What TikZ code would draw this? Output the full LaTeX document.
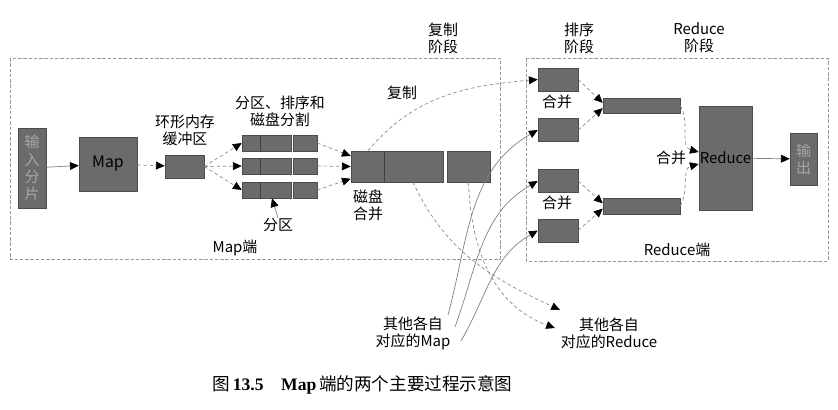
\documentclass[tikz,border=0pt]{standalone}
\usepackage{fontspec}
\newfontfamily\cjk{Noto Sans CJK SC}
\newfontfamily\capserif{Liberation Serif}
\usetikzlibrary{arrows.meta}

\tikzset{
  every node/.style={font=\cjk\fontsize{8.5}{9.8}\selectfont, align=center, inner sep=0pt},
  blk/.style={draw=black!70, fill=black!58, line width=0.3pt},
  sz/.style 2 args={minimum width=#1*0.02cm, minimum height=#2*0.02cm},
  side/.style={draw=black!40, line width=0.4pt, dash pattern=on 2pt off 1pt},
  tip/.style={-{Triangle[length=5pt,width=4.5pt,color=black]}},
  flow/.style={tip, draw=black!50, line width=0.4pt},
  dflow/.style={tip, draw=black!45, line width=0.4pt, dash pattern=on 2pt off 1.5pt},
}

\begin{document}
\begin{tikzpicture}[x=0.02cm, y=-0.02cm]
\useasboundingbox (0,0) rectangle (838,409);

% the two sides
\draw[side] (10,58) rectangle (500,259);
\draw[side] (526,58) rectangle (828,261);

% Map side
\node[blk, sz={28}{80}, text=black!35] (split) at (32,168) {输\\入\\分\\片};
\node[blk, sz={58}{54}, font=\cjk\fontsize{9}{10}\selectfont] (map) at (108,164) {Map};
\node[blk, sz={39}{23}] (buf) at (184.5,166.5) {};
\node (buflbl) at (185,130) {环形内存\\缓冲区};

\foreach \i/\y in {1/143,2/166,3/190}{
  \node[blk, sz={49}{16}] (p\i) at (266.5,\y) {};
  \node[blk, sz={24}{16}] (q\i) at (305,\y) {};
  \draw[black!75] (260,\y-8) -- (260,\y+8);
}
\node (spilllbl) at (280,111) {分区、排序和\\磁盘分割};
\node (partlbl) at (278,225) {分区};

\node[blk, sz={92}{31}] (mrg) at (397,166.5) {};
\draw[black!75] (384,151) -- (384,182);
\node[blk, sz={43}{31}] (mrg2) at (468.5,166.5) {};
\node (mrglbl) at (368,205) {磁盘\\合并};
\node (copylbl) at (402,93) {复制};
\node (maplbl) at (235,248) {Map端};

% phases
\node (ph1) at (443,38) {复制\\阶段};
\node (ph2) at (579,38) {排序\\阶段};
\node (ph3) at (699,38) {Reduce\\阶段};

% Reduce side
\foreach \i/\y in {1/79.5,2/130,3/181,4/230.5}
  \node[blk, sz={40}{23}] (r\i) at (558,\y) {};
\node (mg1) at (557,102) {合并};
\node (mg2) at (557,203) {合并};
\node[blk, sz={77}{15}] (bar1) at (641.5,105.5) {};
\node[blk, sz={77}{16}] (bar2) at (641.5,206) {};
\node[blk, sz={53}{104}] (red) at (725.5,158) {Reduce};
\node[blk, sz={27}{52}, text=black!35] (out) at (803.5,159) {输\\出};
\node (mg3) at (671,158) {合并};
\node (redlbl) at (677,250) {Reduce端};

% other maps / reduces
\node (othmap) at (413,333) {其他各自\\对应的Map};
\node (othred) at (609,333) {其他各自\\对应的Reduce};
\coordinate (ta) at (560,310);
\coordinate (tb) at (555,328);
\coordinate (ma) at (448,315);
\coordinate (mb) at (455,327);
\coordinate (mc) at (461,341);

\node[anchor=west, font=\cjk\fontsize{10}{12}\selectfont] (cap) at (212,385)
  {图\,{\capserif\bfseries 13.5}\quad{\capserif\bfseries Map}\,端的两个主要过程示意图};

% connectors
\draw[flow] (split) -- (map);
\draw[dflow] (map) -- (buf);
\foreach \i in {1,2,3}
  \draw[dflow] (buf.east) -- (p\i.west);
\foreach \i/\s in {1/6,2/0,3/-7}
  \draw[dflow] (q\i.east) -- ([yshift=\s pt]mrg.west);
\draw[flow] (partlbl.north) -- ([xshift=0.11cm]p3.south);

\draw[dflow] ([xshift=-0.58cm]mrg.north) to[out=50,in=185] (r1.west);
\draw[dflow] ([xshift=0.32cm]mrg.south) to[out=-65,in=155] (ta);
\draw[dflow] (mrg2.south) to[out=-88,in=160] (tb);

\draw[flow] (ma) to[out=75,in=210] (r2.west);
\draw[flow] (mb) to[out=70,in=210] (r3.west);
\draw[flow] (mc) to[out=60,in=210] (r4.west);

\draw[dflow] (r1.east) -- ([yshift=1.5pt]bar1.west);
\draw[dflow] (r2.east) -- ([yshift=-1.5pt]bar1.west);
\draw[dflow] (r3.east) -- ([yshift=1.5pt]bar2.west);
\draw[dflow] (r4.east) -- ([yshift=-1.5pt]bar2.west);
\draw[dflow] (bar1.east) to[out=-60,in=165] ([yshift=3.4pt]red.west);
\draw[dflow] (bar2.east) to[out=60,in=195] ([yshift=-3.4pt]red.west);
\draw[flow] (red) -- (out);
\end{tikzpicture}
\end{document}
